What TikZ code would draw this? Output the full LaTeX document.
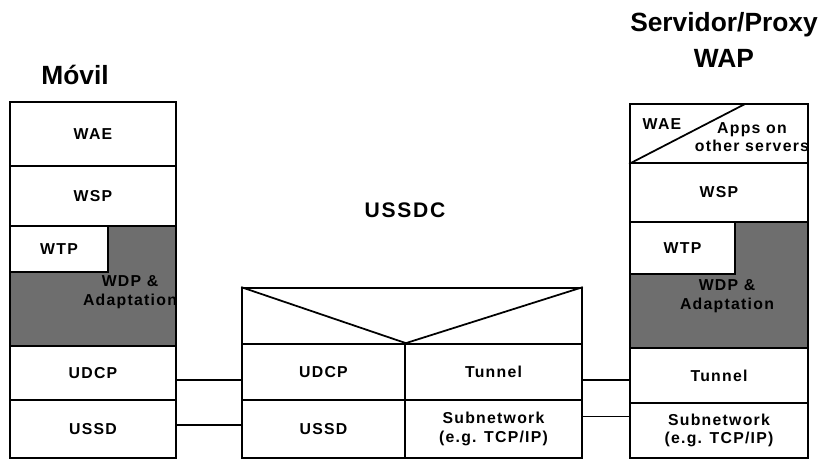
\documentclass[tikz,border=0pt]{standalone}
\usepackage{fontspec}
\setmainfont{Liberation Sans}
\newfontfamily\spaced[LetterSpace=8]{Liberation Sans}
\usetikzlibrary{positioning}
\definecolor{wdpgray}{HTML}{6E6E6E}
\tikzset{
  layer/.style={draw, line width=1pt, inner sep=0pt, align=center, font=\spaced\bfseries\fontsize{9}{10.5}\selectfont},
  wdp/.style={draw, line width=1pt, fill=wdpgray},
  title/.style={align=center, font=\bfseries\fontsize{15}{20}\selectfont},
  link/.style={line width=0.9pt}
}
\begin{document}
\begin{tikzpicture}[x=0.02cm, y=-0.02cm]
  \useasboundingbox (0,0) rectangle (819,460);

  \node[title] (movil) at (75,75) {Móvil};
  \node[title] (proxy) at (724,40) {Servidor/Proxy\\WAP};
  \node[title, font=\spaced\bfseries\fontsize{12}{14}\selectfont] (ussdc) at (405,210) {USSDC};

  \path[wdp] (108,226) -- (176,226) -- (176,346) -- (10,346) -- (10,272) -- (108,272) -- cycle;
  \node[layer, minimum width=3.32cm, minimum height=1.28cm] (mwae) at (93,134) {WAE};
  \node[layer, minimum width=3.32cm, minimum height=1.2cm] (mwsp) at (93,196) {WSP};
  \node[layer, minimum width=1.96cm, minimum height=0.92cm] (mwtp) at (59,249) {WTP};
  \node[layer, draw=none] (mwdp) at (130,292) {WDP \&\\Adaptation};
  \node[layer, minimum width=3.32cm, minimum height=1.08cm] (mudcp) at (93,373) {UDCP};
  \node[layer, minimum width=3.32cm, minimum height=1.16cm] (mussd) at (93,429) {USSD};

  \node[layer, minimum width=6.8cm, minimum height=1.12cm] (ctop) at (412,316) {};
  \node[layer, minimum width=3.26cm, minimum height=1.12cm] (cudcp) at (323.5,372) {UDCP};
  \node[layer, minimum width=3.54cm, minimum height=1.12cm] (ctun) at (493.5,372) {Tunnel};
  \node[layer, minimum width=3.26cm, minimum height=1.16cm] (cussd) at (323.5,429) {USSD};
  \node[layer, minimum width=3.54cm, minimum height=1.16cm] (csub) at (493.5,429) {Subnetwork\\(e.g. TCP/IP)};
  \draw[line width=1pt] (ctop.north west) -- (cudcp.north east) -- (ctop.north east);

  \path[wdp] (735,222) -- (808,222) -- (808,348) -- (630,348) -- (630,274) -- (735,274) -- cycle;
  \node[layer, minimum width=3.56cm, minimum height=1.18cm] (swae) at (719,133.5) {};
  \node[layer, draw=none] (swaelbl) at (662,124) {WAE};
  \node[layer, draw=none] (sapps) at (752,137) {Apps on\\other servers};
  \draw[line width=1pt] (swae.south west) -- (745,104);
  \node[layer, minimum width=3.56cm, minimum height=1.18cm] (swsp) at (719,192.5) {WSP};
  \node[layer, minimum width=2.1cm, minimum height=1.04cm] (swtp) at (682.5,248) {WTP};
  \node[layer, draw=none] (swdp) at (727,296) {WDP \&\\Adaptation};
  \node[layer, minimum width=3.56cm, minimum height=1.1cm] (stun) at (719,375.5) {Tunnel};
  \node[layer, minimum width=3.56cm, minimum height=1.1cm] (ssub) at (719,430.5) {Subnetwork\\(e.g. TCP/IP)};

  \draw[link] ([yshift=-0.14cm]mudcp.east) -- ([yshift=-0.14cm]mudcp.east -| cudcp.west);
  \draw[link] ([yshift=0.08cm]mussd.east) -- ([yshift=0.08cm]mussd.east -| cussd.west);
  \draw[link] ([yshift=-0.16cm]ctun.east) -- ([yshift=-0.16cm]ctun.east -| stun.west);
  \draw[link] ([yshift=0.25cm]csub.east) -- ([yshift=0.25cm]csub.east -| ssub.west);
\end{tikzpicture}
\end{document}
